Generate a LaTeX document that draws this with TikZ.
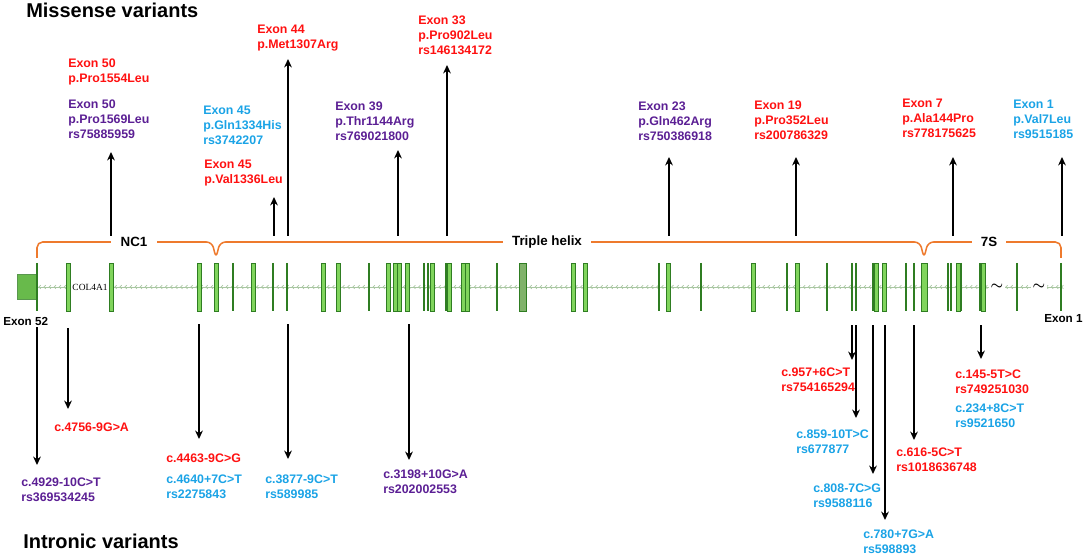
\documentclass[tikz,border=0pt]{standalone}
\usepackage{amsmath}
\usepackage{fontspec}
\setmainfont{Liberation Sans}
\newfontfamily\genefont{Liberation Serif}
\usepackage{tikz}
\usetikzlibrary{arrows.meta}
\usetikzlibrary{decorations.markings}
\definecolor{varred}{HTML}{FF1010}
\definecolor{varpurple}{HTML}{5B1F94}
\definecolor{varblue}{HTML}{1AA3E6}
\definecolor{braceorange}{HTML}{EE7A2D}
\definecolor{exonlight}{HTML}{80D45C}
\definecolor{exondark}{HTML}{2F7D22}
\definecolor{intronline}{HTML}{A9C7A2}
\tikzstyle{varrow} = [line width=1.6pt,-{Stealth[length=6pt,width=5.5pt]}]
\tikzset{intron/.style={draw=intronline, line width=0.5pt,
    decoration={markings,
    mark=between positions 0 and 1 step 3.6pt with {\arrow[intronline]{Straight Barb[length=1.3pt,width=2.6pt]}}},
    postaction={decorate}}}
\tikzset{exonbar/.style={draw=exondark, fill=exonlight, line width=0.5pt}}
\tikzset{thinbar/.style={draw=exondark, line width=1.3pt}}
\tikzset{lab/.style={anchor=north west, inner sep=0pt, align=left, font=\fontsize{8.8}{10.6}\selectfont\bfseries}}
\tikzset{headline/.style={anchor=base west, inner sep=0pt, font=\fontsize{14.2}{16}\selectfont\bfseries}}
\tikzset{exlab/.style={anchor=west, inner sep=0pt, font=\fontsize{8.3}{10}\selectfont\bfseries}}
\tikzset{domlabel/.style={fill=white, inner xsep=6.5pt, inner ysep=1pt, font=\fontsize{9.5}{11}\selectfont\bfseries}}
\tikzset{cutmark/.style={fill=white, inner sep=1pt}}

\begin{document}
\begin{tikzpicture}[x=0.025cm, y=-0.025cm]
\useasboundingbox (0,0) rectangle (1084,557);

\node[headline] (missense) at (26,18) {Missense variants};
\node[headline] (intronic) at (23,548) {Intronic variants};

% gene track
\draw[intron] (1061,287) -- (37,287);
\node[fill=white, inner sep=1pt, font=\genefont\fontsize{6.7}{8}\selectfont] (gene) at (90,287) {COL4A1};
\node[cutmark] (cut1) at (997,287) {$\boldsymbol{\sim}$};
\node[cutmark] (cut2) at (1039,287) {$\boldsymbol{\sim}$};
\draw[draw=exondark!80, fill=exonlight!70!exondark, line width=0.6pt] (17,274) rectangle (37,299);
\foreach \x in {37,233,273,287,369,424,428,446,497,659,701,787,827,852,856,873,906,914,948,951,961,980,1017,1061}
  \draw[thinbar] (\x,263) -- (\x,311);
\foreach \x in {68,111,199,216,253,323,338,388,395,399,407,432,449,463,467,573,585,668,753,797,876,884,958,983}
  \draw[exonbar] (\x-2,263) rectangle (\x+2,311);
\draw[exonbar, fill=exonlight!60!gray] (519,263) rectangle (526,311);
\draw[exonbar] (921,263) rectangle (927,311);
\node[exlab] (ex52) at (3,321) {Exon 52};
\node[exlab] (ex1) at (1044,319) {Exon 1};

% domains
\draw[braceorange, line width=1.1pt, rounded corners=4pt] (37,258) -- (37,242) -- (212,242) -- (216,258) -- (220,242)
  -- (920,242) -- (924,258) -- (928,242) -- (1061,242) -- (1061,258);
\node[domlabel] (nc1) at (134,242) {NC1};
\node[domlabel] (helix) at (547,242) {Triple helix};
\node[domlabel] (sevens) at (989,242) {7S};

% missense variants
\foreach \x/\t [count=\i] in {111/152,274/197,288/59,398/150,447/65,669/157,796/157,953/157,1062/157} {
  \coordinate (up\i b) at (\x,236);
  \coordinate (up\i t) at (\x,\t);
  \draw[varrow] (up\i b) -- (up\i t);
}
\node[lab, varred] (mis1) at (68,58.5) {Exon 50\\p.Pro1554Leu};
\node[lab, varpurple] (mis2) at (68,99.5) {Exon 50\\p.Pro1569Leu\\rs75885959};
\node[lab, varblue] (mis3) at (203,105.5) {Exon 45\\p.Gln1334His\\rs3742207};
\node[lab, varred] (mis4) at (204,159.5) {Exon 45\\p.Val1336Leu};
\node[lab, varred] (mis5) at (257,24.5) {Exon 44\\p.Met1307Arg};
\node[lab, varpurple] (mis6) at (335,101.5) {Exon 39\\p.Thr1144Arg\\rs769021800};
\node[lab, varred] (mis7) at (418,15.5) {Exon 33\\p.Pro902Leu\\rs146134172};
\node[lab, varpurple] (mis8) at (638,101.5) {Exon 23\\p.Gln462Arg\\rs750386918};
\node[lab, varred] (mis9) at (754,100.5) {Exon 19\\p.Pro352Leu\\rs200786329};
\node[lab, varred] (mis10) at (902,98.5) {Exon 7\\p.Ala144Pro\\rs778175625};
\node[lab, varblue] (mis11) at (1013,99.5) {Exon 1\\p.Val7Leu\\rs9515185};

% intronic variants
\foreach \x/\s/\t [count=\i] in {37/327/465,68/328/409,199/324/439,288/324/459,409/324/460,852/325/360,856/325/418,873/325/474,885/325/520,914/325/440,981/325/359} {
  \coordinate (dn\i b) at (\x,\s);
  \coordinate (dn\i t) at (\x,\t);
  \draw[varrow] (dn\i b) -- (dn\i t);
}
\node[lab, varred] (int1) at (54,422.5) {c.4756-9G>A};
\node[lab, varpurple] (int2) at (21,477.5) {c.4929-10C>T\\rs369534245};
\node[lab, varred] (int3) at (166,453.5) {c.4463-9C>G};
\node[lab, varblue] (int4) at (166,474.5) {c.4640+7C>T\\rs2275843};
\node[lab, varblue] (int5) at (265,474.5) {c.3877-9C>T\\rs589985};
\node[lab, varpurple] (int6) at (383,469.5) {c.3198+10G>A\\rs202002553};
\node[lab, varred] (int7) at (781,367.5) {c.957+6C>T\\rs754165294};
\node[lab, varblue] (int8) at (796,429.5) {c.859-10T>C\\rs677877};
\node[lab, varblue] (int9) at (813,483.5) {c.808-7C>G\\rs9588116};
\node[lab, varblue] (int10) at (863,529.5) {c.780+7G>A\\rs598893};
\node[lab, varred] (int11) at (896,447.5) {c.616-5C>T\\rs1018636748};
\node[lab, varred] (int12) at (955,369.5) {c.145-5T>C\\rs749251030};
\node[lab, varblue] (int13) at (955,403.5) {c.234+8C>T\\rs9521650};
\end{tikzpicture}
\end{document}
